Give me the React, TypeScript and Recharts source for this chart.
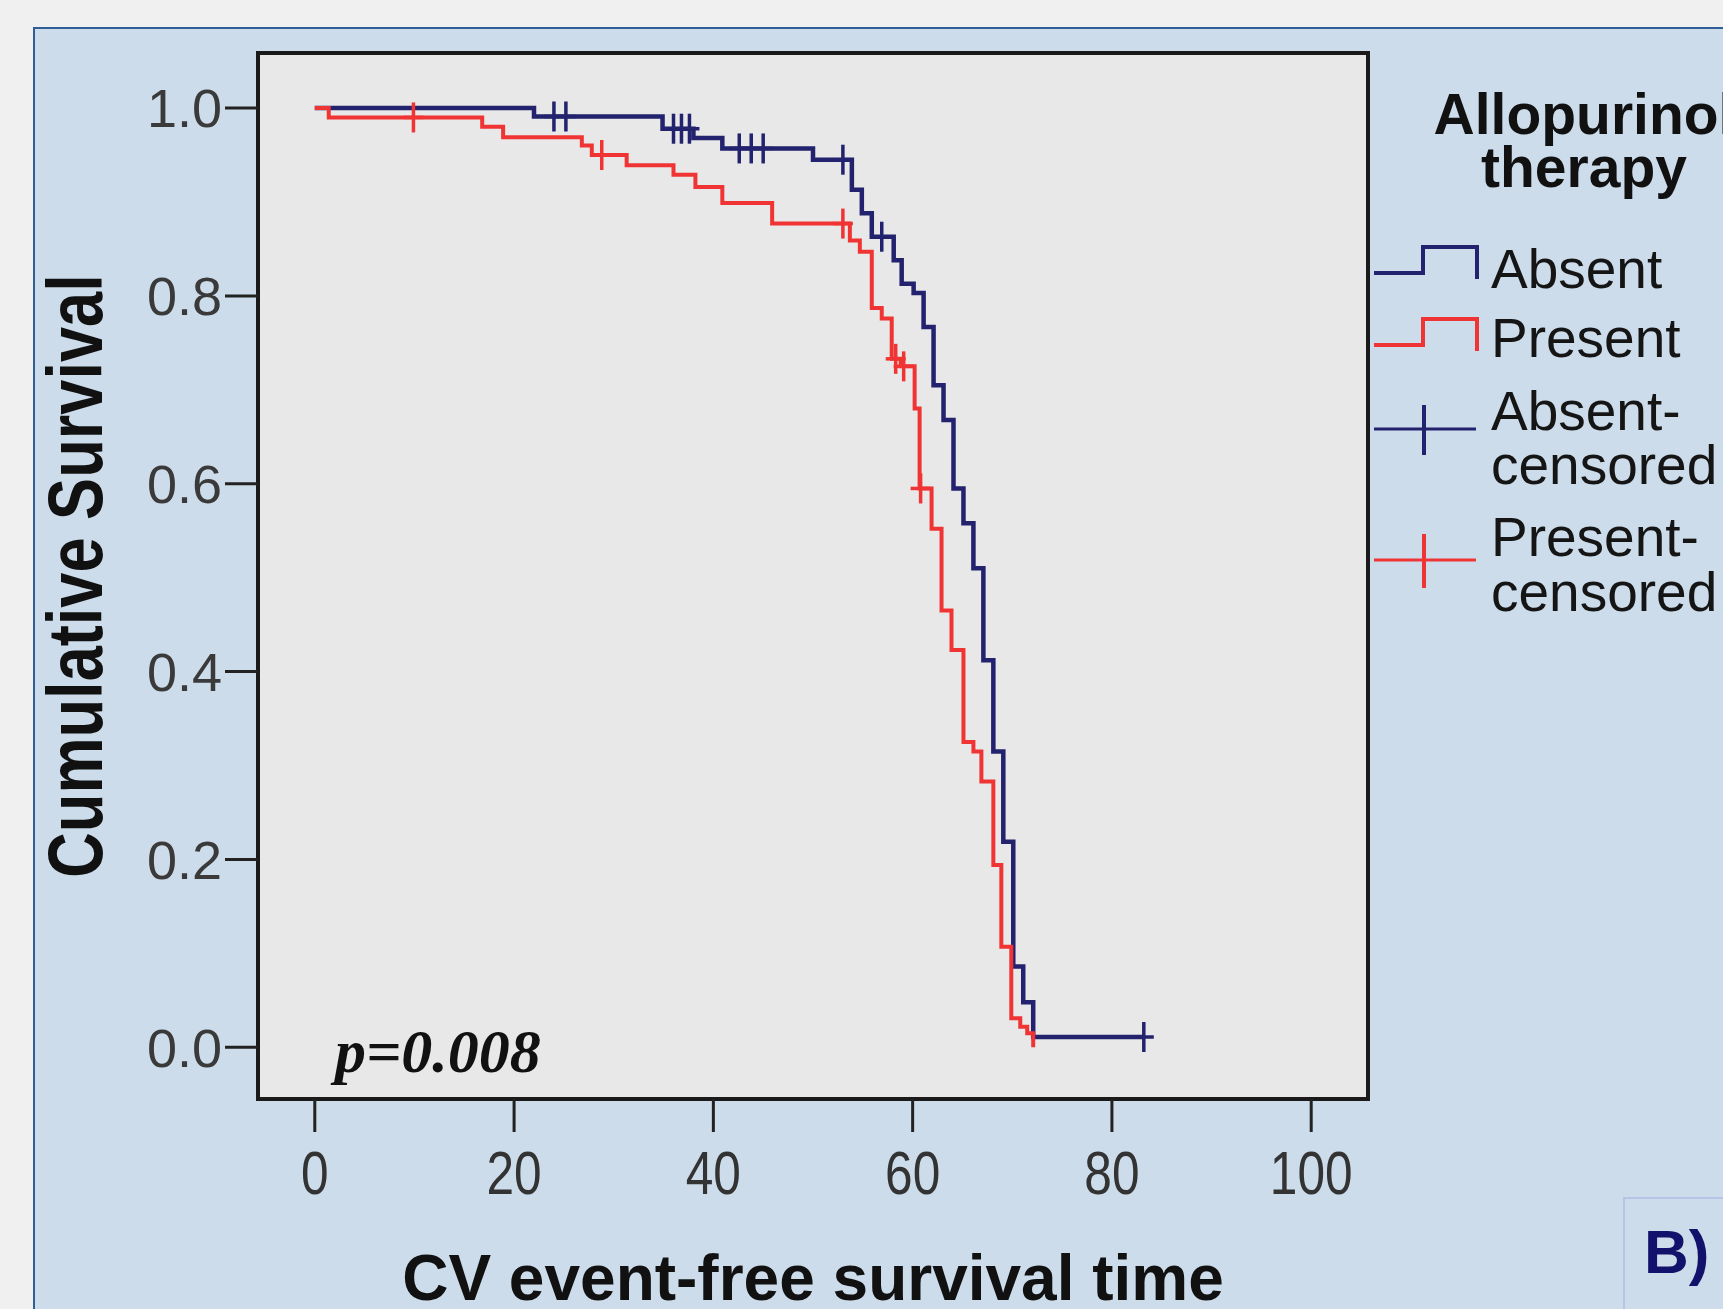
import React from 'react';
import { ComposedChart, Line, Scatter, XAxis, YAxis, ReferenceArea, Label } from 'recharts';

// Kaplan-Meier steps (time, cumulative survival)
const absentTime = [0, 22.0, 34.9, 38.0, 40.9, 50.0, 53.9, 54.9, 55.9, 58.1, 58.9, 60.1, 61.1, 62.1, 63.1, 64.1, 65.1, 66.1, 67.1, 68.1, 69.1, 70.1, 71.1, 72.1, 83.2];
const absentSurv = [1.0, 0.991, 0.978, 0.968, 0.957, 0.945, 0.913, 0.888, 0.863, 0.838, 0.813, 0.803, 0.767, 0.705, 0.668, 0.595, 0.558, 0.51, 0.412, 0.315, 0.219, 0.086, 0.048, 0.011, 0.011];
const absentCensorTime = [24.0, 25.2, 36.0, 36.8, 37.6, 42.6, 43.8, 45.0, 53.0, 56.9, 83.2];
const absentCensorSurv = [0.991, 0.991, 0.978, 0.978, 0.978, 0.957, 0.957, 0.957, 0.945, 0.863, 0.011];

const presentTime = [0, 1.4, 16.8, 18.9, 26.8, 27.8, 31.3, 36.0, 38.2, 40.9, 45.9, 53.7, 54.7, 55.9, 56.9, 57.9, 58.8, 60.2, 60.7, 61.9, 62.9, 63.9, 65.1, 66.1, 66.9, 68.1, 68.9, 69.9, 70.8, 71.5, 72.1];
const presentSurv = [1.0, 0.99, 0.98, 0.969, 0.96, 0.95, 0.939, 0.929, 0.916, 0.899, 0.877, 0.859, 0.847, 0.787, 0.776, 0.733, 0.725, 0.68, 0.595, 0.552, 0.465, 0.423, 0.325, 0.315, 0.283, 0.194, 0.107, 0.031, 0.022, 0.015, 0.0];
const presentCensorTime = [9.9, 28.8, 53.0, 58.3, 59.1, 60.8];
const presentCensorSurv = [0.99, 0.95, 0.877, 0.733, 0.725, 0.595];

const xTicks = [0, 20, 40, 60, 80, 100];
const yTicks = [0, 0.2, 0.4, 0.6, 0.8, 1.0];
const xDomain = [-5.7, 105.7];
const yDomain = [-0.055, 1.0586];

const legendTitle = ['Allopurinol', 'therapy'];
const legendLabels = ['Absent', 'Present', 'Absent-|censored', 'Present-|censored'];

const BLUE = '#22226e';
const RED = '#f03434';
const SANS = "'Liberation Sans', Arial, sans-serif";

const toPoints = (ts: number[], ss: number[]) => ts.map((t, i) => ({ t, s: ss[i] }));

const absentData = toPoints(absentTime, absentSurv);
const presentData = toPoints(presentTime, presentSurv);
const absentCensors = toPoints(absentCensorTime, absentCensorSurv);
const presentCensors = toPoints(presentCensorTime, presentCensorSurv);

// SPSS style "+" censor marker
const censorMark = (color: string) => (props: any) => {
  const { cx, cy } = props;
  if (cx == null || cy == null) return <g />;
  return (
    <g>
      <line x1={cx} y1={cy - 15} x2={cx} y2={cy + 15} stroke={color} strokeWidth={3.5} />
      <line x1={cx - 10} y1={cy} x2={cx + 10} y2={cy} stroke={color} strokeWidth={3.5} />
    </g>
  );
};

// x ticks use a condensed look (Arial Narrow in the original)
const NarrowTick = (props: any) => {
  const { x, y, payload } = props;
  return (
    <text
      transform={`translate(${x},${y}) scale(0.8,1)`}
      textAnchor="middle"
      dy="0.71em"
      fontSize={62}
      fontFamily={SANS}
      fill="#333"
    >
      {payload.value}
    </text>
  );
};

const yTitle = (p: any) => {
  const vb = p.viewBox || { x: 58, y: 53, width: 200, height: 1046 };
  const cx = vb.x + 16;
  const cy = vb.y + vb.height / 2;
  return (
    <text
      transform={`translate(${cx},${cy}) rotate(-90) scale(0.82,1)`}
      textAnchor="middle"
      dy="0.36em"
      fontSize={77}
      fontWeight="bold"
      fontFamily={SANS}
      fill="#111"
    >
      Cumulative Survival
    </text>
  );
};

function LegendBox() {
  return (
    <svg width={1723} height={1309} style={{ position: 'absolute', left: 0, top: 0, pointerEvents: 'none' }}>
      <text x={1584} y={134} textAnchor="middle" fontFamily={SANS} fontWeight="bold" fontSize={57} fill="#111">{legendTitle[0]}</text>
      <text x={1584} y={187} textAnchor="middle" fontFamily={SANS} fontWeight="bold" fontSize={57} fill="#111">{legendTitle[1]}</text>

      {/* step icons */}
      <polyline points="1374,273 1423,273 1423,247 1477,247 1477,279" fill="none" stroke={BLUE} strokeWidth={4} />
      <polyline points="1374,345 1423,345 1423,319 1477,319 1477,351" fill="none" stroke={RED} strokeWidth={4} />
      {/* censor icons */}
      <line x1={1374} y1={429} x2={1476} y2={429} stroke={BLUE} strokeWidth={3} />
      <line x1={1424} y1={405} x2={1424} y2={455} stroke={BLUE} strokeWidth={4} />
      <line x1={1374} y1={560} x2={1476} y2={560} stroke={RED} strokeWidth={3} />
      <line x1={1424} y1={534} x2={1424} y2={588} stroke={RED} strokeWidth={4} />

      <text x={1491} y={288} fontFamily={SANS} fontSize={55} fill="#151515">{legendLabels[0]}</text>
      <text x={1491} y={357} fontFamily={SANS} fontSize={55} fill="#151515">{legendLabels[1]}</text>
      <text x={1491} y={430} fontFamily={SANS} fontSize={55} fill="#151515">{legendLabels[2].split('|')[0]}</text>
      <text x={1491} y={484} fontFamily={SANS} fontSize={55} fill="#151515">{legendLabels[2].split('|')[1]}</text>
      <text x={1491} y={556} fontFamily={SANS} fontSize={55} fill="#151515">{legendLabels[3].split('|')[0]}</text>
      <text x={1491} y={611} fontFamily={SANS} fontSize={55} fill="#151515">{legendLabels[3].split('|')[1]}</text>

      <text x={335} y={1072} fontFamily="'Liberation Serif', 'Times New Roman', serif" fontStyle="italic" fontWeight="bold" fontSize={62} fill="#111">p=0.008</text>

      <rect x={1624} y={1198} width={120} height={140} fill="none" stroke="#b9c3e6" strokeWidth={2} />
      <text x={1644} y={1273} fontFamily={SANS} fontWeight="bold" fontSize={62} fill="#12126c">B)</text>
    </svg>
  );
}

export default function App() {
  return (
    <div style={{ position: 'absolute', left: 0, top: 0, width: 1723, height: 1309, background: '#f0f0f0', overflow: 'hidden' }}>
      <div style={{ position: 'absolute', left: 33, top: 27, width: 1723, height: 1309, background: '#ccdcea', borderLeft: '2px solid #2f5f96', borderTop: '2px solid #2f5f96' }} />
      <div style={{ position: 'absolute', left: 0, top: 0 }}>
        <ComposedChart width={1723} height={1309} margin={{ top: 53, right: 355, bottom: 0, left: 58 }}>
          <XAxis
            dataKey="t"
            type="number"
            domain={xDomain}
            ticks={xTicks}
            allowDataOverflow
            axisLine={false}
            tickSize={33}
            tickMargin={18}
            height={210}
            tickLine={{ stroke: '#222', strokeWidth: 3 }}
            tick={<NarrowTick />}
          >
            <Label
              value="CV event-free survival time"
              position="insideBottom"
              offset={9}
              style={{ fontSize: 64, fontWeight: 'bold', fontFamily: SANS, fill: '#111' }}
            />
          </XAxis>
          <YAxis
            dataKey="s"
            type="number"
            domain={yDomain}
            ticks={yTicks}
            allowDataOverflow
            axisLine={false}
            width={200}
            tickSize={33}
            tickMargin={3}
            tickFormatter={(v: number) => v.toFixed(1)}
            tickLine={{ stroke: '#222', strokeWidth: 3 }}
            tick={{ fontSize: 54, fontFamily: SANS, fill: '#3a3a3a' }}
          >
            <Label position="insideLeft" content={yTitle} />
          </YAxis>
          <ReferenceArea
            x1={xDomain[0]}
            x2={xDomain[1]}
            y1={yDomain[0]}
            y2={yDomain[1]}
            fill="#e8e8e8"
            fillOpacity={1}
            stroke="#1a1a1a"
            strokeWidth={4}
            ifOverflow="visible"
          />
          <Line data={absentData} dataKey="s" type="stepAfter" stroke={BLUE} strokeWidth={4.5} dot={false} isAnimationActive={false} />
          <Line data={presentData} dataKey="s" type="stepAfter" stroke={RED} strokeWidth={4} dot={false} isAnimationActive={false} />
          <Scatter data={absentCensors} dataKey="s" shape={censorMark(BLUE)} isAnimationActive={false} />
          <Scatter data={presentCensors} dataKey="s" shape={censorMark(RED)} isAnimationActive={false} />
        </ComposedChart>
      </div>
      <LegendBox />
    </div>
  );
}
